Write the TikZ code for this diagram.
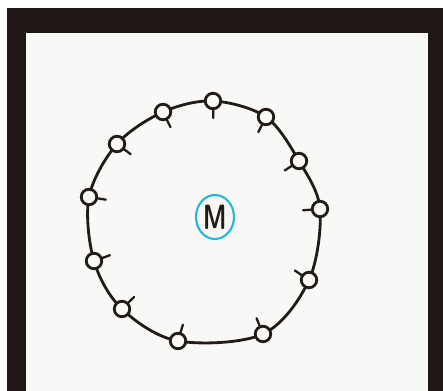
\documentclass[tikz,border=0pt]{standalone}
\usepackage{tikz}
\usetikzlibrary{calc, backgrounds, shapes.geometric}
\definecolor{ink}{HTML}{231b1a}
\definecolor{frameblk}{HTML}{1f1715}
\definecolor{paper}{HTML}{f8f8f7}
\definecolor{marker}{HTML}{25b6d8}
\tikzset{
  seat/.style   = {circle, draw=ink, line width=1.6pt, fill=paper,
                   minimum size=0.31cm, inner sep=0pt},
  ring/.style   = {draw=ink, line width=1.6pt},
  leg/.style    = {draw=ink, line width=1.3pt, line cap=round},
  chair/.style  = {ellipse, draw=marker, line width=1.2pt, text=ink,
                   minimum width=0.76cm, minimum height=0.88cm, inner sep=0pt,
                   font=\sffamily\bfseries\fontsize{20}{24}\selectfont},
}
\begin{document}
\begin{tikzpicture}[x=0.02cm, y=-0.02cm]
    \useasboundingbox (0,0) rectangle (443,391);

    % Centre : the M
    \node[chair]        (m)   at (215,217) {\scalebox{0.68}[1]{M}};

    % Seats round the ring, clockwise from the top
    \node[seat]         (s1)  at (213,101) {};
    \node[seat]         (s2)  at (266,117) {};
    \node[seat]         (s3)  at (299,161) {};
    \node[seat]         (s4)  at (320,209) {};
    \node[seat]         (s5)  at (309,280) {};
    \node[seat]         (s6)  at (263,334) {};
    \node[seat]         (s7)  at (178,341) {};
    \node[seat]         (s8)  at (122,309) {};
    \node[seat]         (s9)  at (94,261)  {};
    \node[seat]         (s10) at (89,197)  {};
    \node[seat]         (s11) at (117,144) {};
    \node[seat]         (s12) at (163,112) {};

    % Frame and ring go under the seats
    \begin{scope}[on background layer]
      \fill[white]    (0,0)   rectangle (443,391);
      \fill[frameblk] (7,8)   rectangle (443,391);
      \fill[paper]    (26,33) rectangle (428,391);
      \draw[ring] plot[smooth cycle, tension=0.55] coordinates {(s1.center) (s2.center) (s3.center)
        (s4.center) (s5.center) (s6.center) (s7.center) (s8.center) (s9.center)
        (s10.center) (s11.center) (s12.center)};
    \end{scope}

    % Legs, pointing in to the M
    \draw[leg] ($(s1.center)!0.16cm!(m.center)$)  -- ($(s1.center)!0.34cm!(m.center)$);
    \draw[leg] ($(s2.center)!0.16cm!(m.center)$)  -- ($(s2.center)!0.34cm!(m.center)$);
    \draw[leg] ($(s3.center)!0.16cm!(m.center)$)  -- ($(s3.center)!0.34cm!(m.center)$);
    \draw[leg] ($(s4.center)!0.16cm!(m.center)$)  -- ($(s4.center)!0.34cm!(m.center)$);
    \draw[leg] ($(s5.center)!0.16cm!(m.center)$)  -- ($(s5.center)!0.34cm!(m.center)$);
    \draw[leg] ($(s6.center)!0.16cm!(m.center)$)  -- ($(s6.center)!0.34cm!(m.center)$);
    \draw[leg] ($(s7.center)!0.16cm!(m.center)$)  -- ($(s7.center)!0.34cm!(m.center)$);
    \draw[leg] ($(s8.center)!0.16cm!(m.center)$)  -- ($(s8.center)!0.34cm!(m.center)$);
    \draw[leg] ($(s9.center)!0.16cm!(m.center)$)  -- ($(s9.center)!0.34cm!(m.center)$);
    \draw[leg] ($(s10.center)!0.16cm!(m.center)$) -- ($(s10.center)!0.34cm!(m.center)$);
    \draw[leg] ($(s11.center)!0.16cm!(m.center)$) -- ($(s11.center)!0.34cm!(m.center)$);
    \draw[leg] ($(s12.center)!0.16cm!(m.center)$) -- ($(s12.center)!0.34cm!(m.center)$);
\end{tikzpicture}
\end{document}
